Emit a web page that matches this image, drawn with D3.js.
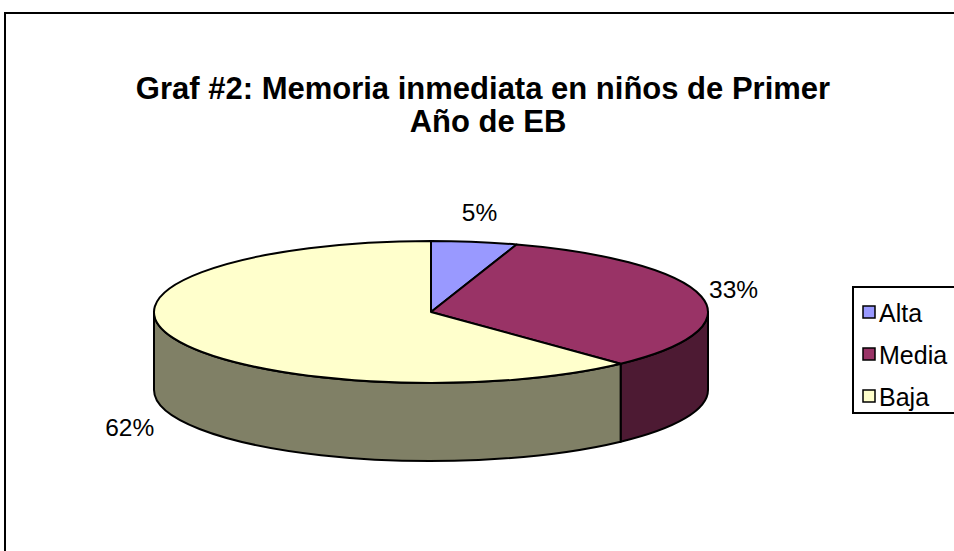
<!DOCTYPE html>
<html>
<head>
<meta charset="utf-8">
<script src="https://cdn.jsdelivr.net/npm/d3@7"></script>
<style>
  body { margin: 0; background: #fff; }
  text { font-family: "Liberation Sans", Arial, sans-serif; }
</style>
</head>
<body>
<script>
const width = 954;
const height = 551;

const categories = ["Alta", "Media", "Baja"];
const values = [5, 33, 62];
const labels = ["5%", "33%", "62%"];
const titleLines = ["Graf #2: Memoria inmediata en niños de Primer", "Año de EB"];

const topColors = ["#9999FF", "#993366", "#FFFFCC"];
const sideColors = ["#4D4D80", "#4D1A33", "#808066"];

const cx = 431, cy = 312, rx = 277, ry = 71, depth = 78;

const svg = d3.select("body").append("svg")
  .attr("width", width)
  .attr("height", height);

// marco
svg.append("rect")
  .attr("x", 5).attr("y", 13)
  .attr("width", 1000).attr("height", 600)
  .attr("fill", "#fff")
  .attr("stroke", "#000")
  .attr("stroke-width", 2);

// titulo
svg.append("text")
  .attr("x", 484)
  .attr("y", 99)
  .attr("text-anchor", "middle")
  .attr("font-size", 31)
  .attr("font-weight", "bold")
  .selectAll("tspan")
  .data(titleLines)
  .join("tspan")
  .attr("x", (d, i) => i === 0 ? 483 : 488)
  .attr("dy", (d, i) => i === 0 ? 0 : 33)
  .text(d => d);

const color = d3.scaleOrdinal().domain(categories).range(topColors);
const side = d3.scaleOrdinal().domain(categories).range(sideColors);

const pie = d3.pie().sort(null).value(d => d.value);
const arcs = pie(categories.map((c, i) => ({ name: c, value: values[i], label: labels[i] })));

// punto sobre la elipse (angulo desde arriba, sentido horario)
const px = a => cx + rx * Math.sin(a);
const py = (a, dz = 0) => cy - ry * Math.cos(a) + dz;

const g = svg.append("g");

// caras laterales (solo la mitad delantera)
arcs.forEach(d => {
  const a0 = Math.max(d.startAngle, Math.PI / 2);
  const a1 = Math.min(d.endAngle, Math.PI * 1.5);
  if (a1 <= a0) return;
  const large = (a1 - a0) > Math.PI ? 1 : 0;
  const s = `M${px(a0)},${py(a0)}` +
    `A${rx},${ry} 0 ${large} 1 ${px(a1)},${py(a1)}` +
    `L${px(a1)},${py(a1, depth)}` +
    `A${rx},${ry} 0 ${large} 0 ${px(a0)},${py(a0, depth)}Z`;
  g.append("path")
    .attr("d", s)
    .attr("fill", side(d.data.name))
    .attr("stroke", "#000")
    .attr("stroke-width", 2)
    .attr("stroke-linejoin", "round");
});

// caras superiores
arcs.forEach(d => {
  const large = (d.endAngle - d.startAngle) > Math.PI ? 1 : 0;
  const s = `M${cx},${cy}L${px(d.startAngle)},${py(d.startAngle)}` +
    `A${rx},${ry} 0 ${large} 1 ${px(d.endAngle)},${py(d.endAngle)}Z`;
  g.append("path")
    .attr("d", s)
    .attr("fill", color(d.data.name))
    .attr("stroke", "#000")
    .attr("stroke-width", 2)
    .attr("stroke-linejoin", "round");
});

// etiquetas de datos
svg.append("g")
  .selectAll("text")
  .data(arcs)
  .join("text")
  .attr("x", d => {
    const m = (d.startAngle + d.endAngle) / 2;
    return cx + (rx + 33) * Math.sin(m) - (Math.sin(m) < -0.5 ? 13 : 0);
  })
  .attr("y", d => {
    const m = (d.startAngle + d.endAngle) / 2;
    return cy - (ry + 30) * Math.cos(m) + (Math.cos(m) < 0 ? depth : 0);
  })
  .attr("text-anchor", "middle")
  .attr("dominant-baseline", "central")
  .attr("font-size", 24.5)
  .text(d => d.data.label);

// leyenda
const legend = svg.append("g");
legend.append("rect")
  .attr("x", 853).attr("y", 287)
  .attr("width", 200).attr("height", 126)
  .attr("fill", "#fff")
  .attr("stroke", "#000")
  .attr("stroke-width", 2);

const item = legend.selectAll("g.item")
  .data(categories)
  .join("g")
  .attr("class", "item")
  .attr("transform", (d, i) => `translate(863,${312 + i * 42})`);

item.append("rect")
  .attr("x", 0).attr("y", -6)
  .attr("width", 12).attr("height", 12)
  .attr("fill", d => color(d))
  .attr("stroke", "#000")
  .attr("stroke-width", 1.5);

item.append("text")
  .attr("x", 16)
  .attr("y", 1)
  .attr("dominant-baseline", "central")
  .attr("font-size", 25)
  .text(d => d);
</script>
</body>
</html>
